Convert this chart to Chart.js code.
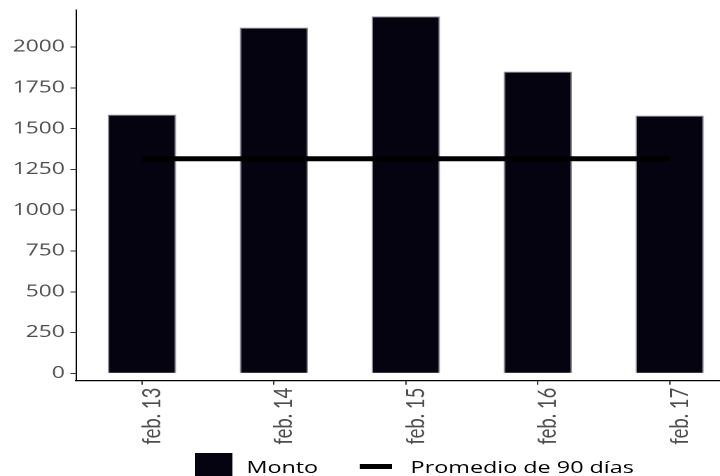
<!DOCTYPE html>
<html>
<head>
<meta charset="utf-8">
<script src="https://cdn.jsdelivr.net/npm/chart.js@4/dist/chart.umd.min.js"></script>
<style>
  html, body { margin: 0; padding: 0; background: #ffffff; }
  #frame { position: relative; width: 720px; height: 476px; overflow: hidden; background: #fff; }
  #stage { position: absolute; left: 0; top: 0; width: 526px; height: 476px; transform: scaleX(1.4); transform-origin: 0 0; }
  #c { position: absolute; left: 0; top: 0; }
  #legend { position: absolute; left: 139px; top: 453px; display: flex; align-items: center;
            font-family: 'Open Sans', sans-serif; font-size: 16.7px; color: #000; white-space: nowrap; }
  .sq { width: 27px; height: 27px; margin-right: 10px; }
  .ln { width: 23px; height: 5px; margin-right: 13px; }
  .gap { width: 30px; }
</style>
</head>
<body>
<div id="frame">
  <div id="stage">
    <canvas id="c" width="526" height="476"></canvas>
    <div id="legend"></div>
  </div>
</div>
<script>
// ---- data ----
const categories = ['feb. 13', 'feb. 14', 'feb. 15', 'feb. 16', 'feb. 17'];
const montoValues = [1586, 2119, 2188, 1849, 1580];
const promedioValues = [1315, 1315, 1315, 1315, 1315];
const yTickValues = [0, 250, 500, 750, 1000, 1250, 1500, 1750, 2000];
const seriesNames = ['Monto', 'Promedio de 90 días'];

const barColor = '#05030f';
const lineColor = '#000000';
const tickTextColor = '#4d4d4d';

const chart = new Chart(document.getElementById('c'), {
  type: 'bar',
  data: {
    labels: categories,
    datasets: [
      {
        type: 'bar',
        label: seriesNames[0],
        data: montoValues,
        backgroundColor: barColor,
        borderColor: '#8e8e98',
        borderWidth: 1,
        barPercentage: 0.518,
        categoryPercentage: 1.0,
        order: 1
      },
      {
        type: 'line',
        label: seriesNames[1],
        data: promedioValues,
        borderColor: lineColor,
        backgroundColor: lineColor,
        borderWidth: 5,
        pointRadius: 0,
        fill: false,
        order: 0
      }
    ]
  },
  options: {
    responsive: false,
    animation: false,
    devicePixelRatio: 2,
    layout: { padding: { top: 10, right: 0.5, left: 0, bottom: 0 } },
    plugins: {
      legend: { display: false },
      tooltip: { enabled: false }
    },
    scales: {
      x: {
        type: 'category',
        offset: true,
        grid: { display: true, drawOnChartArea: false, drawTicks: true, tickLength: 4, color: '#333333', offset: false },
        border: { display: true, color: '#000000', width: 1.2 },
        ticks: {
          autoSkip: false,
          maxRotation: 90,
          minRotation: 90,
          padding: 3,
          labelOffset: 7,
          color: tickTextColor,
          font: { family: 'Lato', size: 18.5 }
        },
        afterFit: (s) => { s.height = 95.3; s.paddingLeft = 0; s.paddingRight = 0; }
      },
      y: {
        type: 'linear',
        min: -45,
        max: 2227,
        grid: { display: true, drawOnChartArea: false, drawTicks: true, tickLength: 4, color: '#333333' },
        border: { display: true, color: '#000000', width: 1 },
        ticks: {
          padding: 4,
          color: tickTextColor,
          font: { family: 'Open Sans', size: 16.3 },
          callback: (v) => String(v)
        },
        afterBuildTicks: (s) => { s.ticks = yTickValues.map(v => ({ value: v })); },
        afterFit: (s) => { s.width = 54.3; s.paddingTop = 0; s.paddingBottom = 0; }
      }
    }
  }
});

// HTML legend built from the chart's datasets
const legendEl = document.getElementById('legend');
chart.data.datasets.forEach((ds, i) => {
  if (i > 0) {
    const g = document.createElement('span'); g.className = 'gap'; legendEl.appendChild(g);
  }
  const sw = document.createElement('span');
  sw.className = ds.type === 'line' ? 'ln' : 'sq';
  sw.style.background = ds.type === 'line' ? ds.borderColor : ds.backgroundColor;
  legendEl.appendChild(sw);
  const t = document.createElement('span');
  t.textContent = ds.label;
  legendEl.appendChild(t);
});
</script>
</body>
</html>
